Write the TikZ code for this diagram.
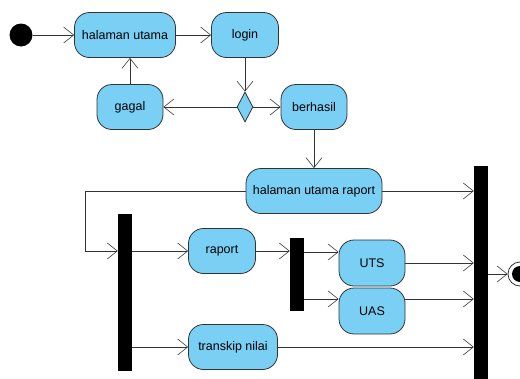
\documentclass[tikz,border=0pt]{standalone}
\usepackage{fontspec}
\setmainfont{Liberation Sans}
\usepackage{xcolor}
\usetikzlibrary{arrows.meta,shapes.geometric}

\definecolor{actblue}{HTML}{7ACFF5}
\definecolor{edge}{HTML}{333333}

\begin{document}
\begin{tikzpicture}[x=1pt, y=-1pt, font=\fontsize{12.5}{14}\selectfont,
        act/.style={rectangle, rounded corners=15pt, draw=edge, thick,
            fill=actblue, minimum height=45pt, inner sep=2pt},
        bar/.style={rectangle, fill=black, minimum width=14pt, inner sep=0pt},
        flow/.style={->, draw=edge, semithick},
        >={Straight Barb[length=10pt, width=16pt]}]

        \useasboundingbox (0,0) rectangle (520,378);

        % start
        \node[circle, fill=black, minimum size=23pt, inner sep=0pt] (start) at (21,35) {};
        \node[act, minimum width=101pt] (home) at (125,35) {halaman utama};
        \node[act, minimum width=67pt] (login) at (245,35) {login};
        \node[diamond, draw=edge, thick, fill=actblue, minimum width=16pt,
            minimum height=30pt, inner sep=0pt] (cek) at (245,107) {};
        \node[act, minimum width=66pt] (gagal) at (130,107) {gagal};
        \node[act, minimum width=66pt] (berhasil) at (314,107) {berhasil};
        \node[act, minimum width=136pt] (homeraport) at (314,191) {halaman utama raport};

        % fork / join
        \node[bar, minimum height=157pt] (fork) at (125,292.5) {};
        \node[act, minimum width=67pt] (raport) at (222,251) {raport};
        \node[act, minimum width=89pt] (transkip) at (233,347) {transkip nilai};
        \node[bar, minimum height=73pt] (fork2) at (297,274.5) {};
        \node[act, minimum width=66pt, minimum height=46pt] (uts) at (372,263) {UTS};
        \node[act, minimum width=66pt, minimum height=46pt] (uas) at (372,311) {UAS};
        \node[bar, minimum height=230pt] (join) at (481,281) {};

        % end
        \node[circle, draw=edge, thick, fill=white, minimum size=24pt, inner sep=0pt] (end) at (520,274) {};
        \node[circle, fill=black, minimum size=16pt, inner sep=0pt] (endin) at (end) {};

        \coordinate (bend) at (85,191);

        \draw[flow] (start) -- (home);
        \draw[flow] (home) -- (login);
        \draw[flow] (login) -- (cek);
        \draw[flow] (cek) -- (gagal);
        \draw[flow] (cek) -- (berhasil);
        \draw[flow] (gagal.north) -- (gagal.north |- home.south);
        \draw[flow] (berhasil) -- (homeraport);
        \draw[flow] (homeraport.west) -- (bend) |- (fork.west |- raport);
        \draw[flow] (homeraport.east) -- (homeraport.east -| join.west);
        \draw[flow] (fork.east |- raport) -- (raport.west);
        \draw[flow] (fork.east |- transkip) -- (transkip.west);
        \draw[flow] (raport.east) -- (raport.east -| fork2.west);
        \draw[flow] ([yshift=11pt]uts.west -| fork2.east) -- ([yshift=11pt]uts.west);
        \draw[flow] ([yshift=12pt]uas.west -| fork2.east) -- ([yshift=12pt]uas.west);
        \draw[flow] (uts.east) -- (uts.east -| join.west);
        \draw[flow] ([yshift=12pt]uas.east) -- ([yshift=12pt]uas.east -| join.west);
        \draw[flow] (transkip.east) -- (transkip.east -| join.west);
        \draw[flow] (join.east |- end) -- (end.west);
    \end{tikzpicture}
\end{document}
